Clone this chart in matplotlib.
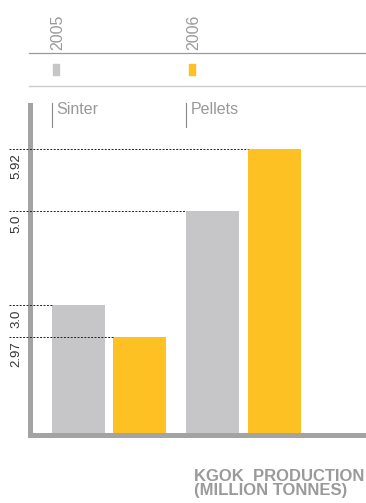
import numpy as np
import matplotlib
matplotlib.use("Agg")
import matplotlib.pyplot as plt
from matplotlib.lines import Line2D
from matplotlib.patches import Rectangle

plt.rcParams['font.family'] = ['Liberation Sans', 'DejaVu Sans']

# data
products = ['Sinter', 'Pellets']
years = ['2005', '2006']
values = {
    '2005': [3.0, 5.0],
    '2006': [2.97, 5.92],
}
tick_labels = {3.0: '3.0', 2.97: '2.97', 5.0: '5.0', 5.92: '5.92'}
colors = {'2005': '#c6c6c8', '2006': '#fdc124'}
axis_grey = '#a3a3a3'

# the original artwork is not drawn to a linear scale;
# this piecewise scale reproduces its spacing
scale_v = [0, 2.97, 3.0, 5.0, 5.92, 8.0]
scale_h = [0, 97.7, 130, 224.3, 285.7, 424.5]


def fwd(v):
    return np.interp(v, scale_v, scale_h)


def inv(h):
    return np.interp(h, scale_h, scale_v)


W, H = 366, 503


def fx(px):
    return px / W


def fy(py):
    return 1 - py / H


fig = plt.figure(figsize=(W / 100, H / 100), dpi=100)
ax = fig.add_axes([fx(30), fy(435), fx(366) - fx(30), fy(105) - fy(435)])
ax.set_yscale('function', functions=(fwd, inv))

width = 0.395
offset = 0.228
for i, yr in enumerate(years):
    xs = [g + (offset if i else -offset) for g in range(len(products))]
    ax.bar(xs, values[yr], width=width, color=colors[yr], zorder=2)

ax.set_ylim(0, inv(330))
ax.set_xlim(-79 / 134.5, 1 + (366 - 243.5) / 134.5)

# dashed guides + rotated value labels
x_start = (9 - 109) / 134.5
x_text = (16 - 109) / 134.5
for i, yr in enumerate(years):
    for g, v in enumerate(values[yr]):
        left = g + (offset if i else -offset) - width / 2
        ax.plot([x_start, left], [v, v], ls=(0, (2, 1.5)), lw=0.7,
                color='#222222', clip_on=False, zorder=3)
        ax.annotate(tick_labels[v], (x_text, v), xytext=(0, -3),
                    textcoords='offset points', rotation=90, ha='center',
                    va='top', fontsize=9.5, color='#333333',
                    annotation_clip=False)

ax.set_xticks([])
ax.set_yticks([])
ax.minorticks_off()
for s in ['top', 'right']:
    ax.spines[s].set_visible(False)
for s in ['left', 'bottom']:
    ax.spines[s].set_color(axis_grey)
    ax.spines[s].set_linewidth(3.6)
    ax.spines[s].set_capstyle('projecting')
ax.patch.set_alpha(0)

# product labels with small vertical ticks
for g, name in enumerate(products):
    lx = 109 + g * 134.5 - 57
    fig.add_artist(Line2D([fx(lx), fx(lx)], [fy(103), fy(127)],
                          color='#888888', lw=0.8))
    fig.text(fx(lx + 4), fy(102), name, ha='left', va='top',
             fontsize=11.5, color='#999999')

# year legend at the top
fig.add_artist(Line2D([fx(29), fx(366)], [fy(53), fy(53)], color='#999999', lw=0.9))
fig.add_artist(Line2D([fx(29), fx(366)], [fy(86), fy(86)], color='#cccccc', lw=1.0))
for i, yr in enumerate(years):
    cx = 58 + i * 136
    fig.text(fx(cx), fy(50), yr, rotation=90, ha='center', va='bottom',
             fontsize=11.5, color='#999999')
    fig.add_artist(Rectangle((fx(cx - 5), fy(75)), fx(6), fy(64) - fy(75),
                             color=colors[yr], transform=fig.transFigure))

fig.text(fx(194), fy(469), 'KGOK  PRODUCTION\n(MILLION TONNES)', ha='left',
         va='top', fontsize=12, fontweight='bold', color='#9a9a9a',
         linespacing=0.95)

fig.savefig('out.png', dpi=100)
